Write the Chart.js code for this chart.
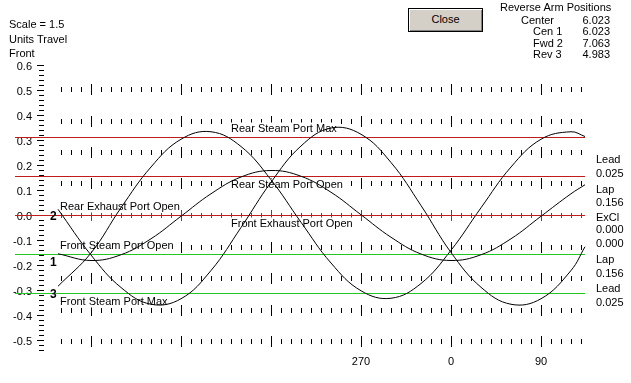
<!DOCTYPE html>
<html><head><meta charset="utf-8">
<script src="https://cdn.jsdelivr.net/npm/chart.js@4.4.1/dist/chart.umd.min.js"></script>
<style>
html,body{margin:0;padding:0;background:#fff;overflow:hidden}
#wrap{position:relative;width:631px;height:383px;font-family:"Liberation Sans",Arial,sans-serif;font-size:11px;color:#000}
#c{position:absolute;left:0;top:0}
.t{position:absolute;white-space:nowrap;line-height:12px;color:#000}
.r{text-align:right}
#close{position:absolute;left:408px;top:8px;width:75px;height:24px;box-sizing:border-box;background:#d4d0c8;border:1px solid #000;box-shadow:inset 1px 1px 0 #fff,inset -1px -1px 0 #808080;text-align:center;line-height:21px;font-size:11px;color:#000}
</style></head>
<body><div id="wrap">
<canvas id="c" width="631" height="383"></canvas>
<div class="t" style="left:9px;top:18px">Scale = 1.5</div>
<div class="t" style="left:9px;top:33px">Units Travel</div>
<div class="t" style="left:9px;top:47px">Front</div>
<div id="close">Close</div>
<div class="t" style="left:500px;top:1px">Reverse Arm Positions</div>
<div class="t" style="left:521px;top:14px">Center</div>
<div class="t" style="left:533px;top:25px">Cen 1</div>
<div class="t" style="left:533px;top:37px">Fwd 2</div>
<div class="t" style="left:533px;top:48px">Rev 3</div>
<div class="t r" style="left:570px;width:40px;top:14px">6.023</div>
<div class="t r" style="left:570px;width:40px;top:25px">6.023</div>
<div class="t r" style="left:570px;width:40px;top:37px">7.063</div>
<div class="t r" style="left:570px;width:40px;top:48px">4.983</div>
<div class="t" style="left:596px;top:153px">Lead</div>
<div class="t" style="left:596px;top:167px">0.025</div>
<div class="t" style="left:596px;top:183px">Lap</div>
<div class="t" style="left:596px;top:196px">0.156</div>
<div class="t" style="left:596px;top:211px">ExCl</div>
<div class="t" style="left:596px;top:223px">0.000</div>
<div class="t" style="left:596px;top:237px">0.000</div>
<div class="t" style="left:596px;top:253px">Lap</div>
<div class="t" style="left:596px;top:267px">0.156</div>
<div class="t" style="left:596px;top:282px">Lead</div>
<div class="t" style="left:596px;top:296px">0.025</div>
</div>
<script>
// ---- data ----
const angles = [-33, 0, 30, 60, 90, 120, 150, 180, 210, 240, 270, 300, 330, 360, 390, 420, 450, 480, 494];
const cen1 = [-0.153, -0.180, -0.157, -0.093, -0.003, 0.087, 0.154, 0.180, 0.157, 0.093, 0.003, -0.087, -0.154, -0.180, -0.157, -0.093, -0.003, 0.087, 0.123];
const fwd2 = [0.025, -0.158, -0.288, -0.355, -0.333, -0.220, -0.048, 0.133, 0.278, 0.350, 0.325, 0.212, 0.040, -0.148, -0.287, -0.355, -0.333, -0.220, -0.125];
const rev3 = [-0.283, -0.150, 0.031, 0.194, 0.305, 0.335, 0.276, 0.143, -0.027, -0.190, -0.301, -0.331, -0.272, -0.139, 0.031, 0.194, 0.305, 0.335, 0.316];
const portLevels = [0.312, 0.156, 0.0, -0.156, -0.312];
const portColors = ['#c01c1c', '#c01c1c', '#c01c1c', '#20c820', '#20c820'];
const portNames = ['Rear Steam Port Max', 'Rear Steam Port Open', 'Front Exhaust Port Open', 'Rear Exhaust Port Open', 'Front Steam Port Open', 'Front Steam Port Max'];
const portNameLevels = [0.312, 0.156, 0.0, 0.0, -0.156, -0.312];
const yTickValues = [0.6, 0.5, 0.4, 0.3, 0.2, 0.1, 0.0, -0.1, -0.2, -0.3, -0.4, -0.5];
const yTickLabels = ['0.6', '0.5', '0.4', '0.3', '0.2', '0.1', '0.0', '-0.1', '-0.2', '-0.3', '-0.4', '-0.5'];
const xTickValues = [270, 360, 450];
const xTickLabels = ['270', '0', '90'];
const gridRows = [0.504, 0.378, 0.252, 0.126, 0.0, -0.126, -0.252, -0.378, -0.504];
const curveTags = ['1', '2', '3'];
const curveTagLevels = [-0.184, 0.0, -0.312];

// ---- layout (styles) ----
const lineStart = -76, lineEnd = 494;
const nameAnchor = [[140, -9], [140, 8], [140, 8], [-31, -9], [-31, -9], [-31, 8]];
const FONT = '11px "Liberation Sans", Arial, sans-serif';

const toXY = (vals) => angles.map((a, i) => ({x: a, y: vals[i]}));

const datasets = [];
[cen1, fwd2, rev3].forEach(s => datasets.push({
  data: toXY(s), borderColor: '#000', borderWidth: 1, pointRadius: 0, tension: 0.4
}));
portLevels.forEach((v, i) => datasets.push({
  data: [{x: lineStart, y: v}, {x: lineEnd, y: v}],
  borderColor: portColors[i], borderWidth: 1, pointRadius: 0, tension: 0, order: 1
}));

const decor = {
  id: 'decor',
  beforeDatasetsDraw(chart) {
    const {ctx, scales: {x, y}} = chart;
    ctx.save();
    ctx.lineWidth = 1;
    // y axis tick column
    ctx.strokeStyle = '#000';
    for (let k = -27; k <= 30; k++) {
      const py = Math.floor(y.getPixelForValue(k / 50)) + 0.5;
      const major = k % 5 === 0;
      ctx.beginPath();
      ctx.moveTo(major ? 37 : 39, py); ctx.lineTo(44, py); ctx.stroke();
    }
    ctx.font = FONT; ctx.fillStyle = '#000';
    ctx.textAlign = 'right'; ctx.textBaseline = 'middle';
    yTickValues.forEach((v, i) => ctx.fillText(yTickLabels[i], 32, y.getPixelForValue(v) + 1));
    // grid rows of ticks
    gridRows.forEach(r => {
      const py = Math.floor(y.getPixelForValue(r));
      ctx.strokeStyle = r === 0 ? '#c01c1c' : '#000';
      for (let d = -30; d <= 490; d += 10) {
        const px = Math.round(x.getPixelForValue(d)) + 0.5;
        const h = d % 90 === 0 ? 5 : 2;
        ctx.beginPath(); ctx.moveTo(px, py - h); ctx.lineTo(px, py + h + 1); ctx.stroke();
      }
    });
    // x labels
    ctx.textAlign = 'center';
    xTickValues.forEach((v, i) => ctx.fillText(xTickLabels[i], x.getPixelForValue(v), y.getPixelForValue(-0.584)));
    // port names with opaque background
    ctx.textAlign = 'left';
    portNames.forEach((n, i) => {
      const px = x.getPixelForValue(nameAnchor[i][0]);
      const py = y.getPixelForValue(portNameLevels[i]) + nameAnchor[i][1];
      const w = ctx.measureText(n).width;
      ctx.fillStyle = '#fff'; ctx.fillRect(px - 1, py - 6, w + 2, 12);
      ctx.fillStyle = '#000'; ctx.fillText(n, px, py);
    });
    ctx.restore();
  },
  afterDatasetsDraw(chart) {
    const {ctx, scales: {x, y}} = chart;
    ctx.save();
    ctx.font = 'bold 12px "Liberation Sans", Arial, sans-serif';
    ctx.fillStyle = '#000'; ctx.textAlign = 'left'; ctx.textBaseline = 'middle';
    curveTags.forEach((t, i) => ctx.fillText(t, x.getPixelForValue(-41), y.getPixelForValue(curveTagLevels[i]) + 1));
    ctx.restore();
  }
};

new Chart(document.getElementById('c'), {
  type: 'line',
  data: {datasets},
  options: {
    responsive: false, animation: false, devicePixelRatio: 1,
    layout: {padding: 0},
    plugins: {legend: {display: false}, tooltip: {enabled: false}},
    events: [],
    scales: {
      x: {type: 'linear', min: -91, max: 540, display: false},
      y: {type: 'linear', min: -0.670, max: 0.862, display: false}
    }
  },
  plugins: [decor]
});
</script>
</body></html>
